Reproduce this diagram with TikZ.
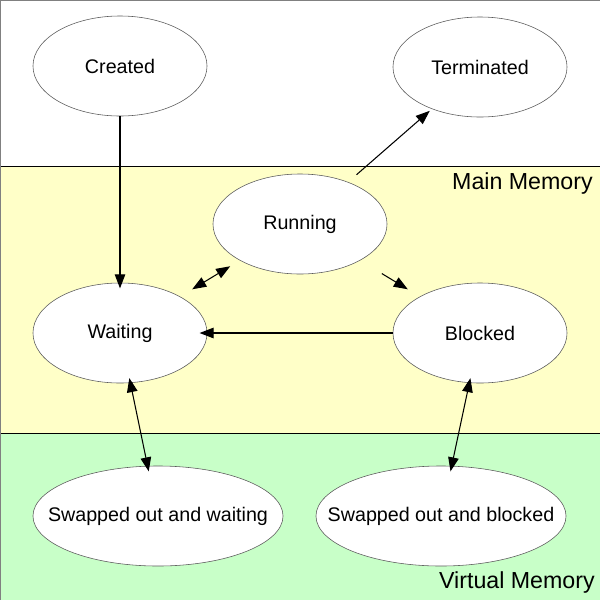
\documentclass[tikz,border=0pt]{standalone}
\usepackage{fontspec}
\setmainfont{Liberation Sans}
\usepackage{tikz}
\usetikzlibrary{shapes.geometric}
\usetikzlibrary{arrows.meta}
\definecolor{mainmem}{RGB}{255,255,200}
\definecolor{virtmem}{RGB}{200,255,200}

\begin{document}
\begin{tikzpicture}[x=0.025cm,y=-0.025cm,
        state/.style={ellipse,draw=black!65,fill=white,inner sep=0pt,
            minimum width=4.35cm,minimum height=2.5cm,font=\fontsize{14}{17}\selectfont},
        wide/.style={minimum width=6.25cm},
        arr/.style={-{Triangle[length=10pt,width=7.5pt]},line width=0.75pt},
        darr/.style={{Triangle[length=10pt,width=7.5pt]}-{Triangle[length=10pt,width=7.5pt]},line width=0.75pt}]
            \useasboundingbox (0,0) rectangle (600,600);
            \fill[white] (0,0) rectangle (600,166);
            \fill[mainmem] (0,166) rectangle (600,433);
            \fill[virtmem] (0,433) rectangle (600,600);
            \draw (0,166) -- (600,166);
            \draw (0,433) -- (600,433);
            \draw[gray] (0,0) rectangle (600,600);
            \node[anchor=east,inner sep=0pt,font=\fontsize{16.5}{20}\selectfont] (mm) at (593,183) {Main Memory};
            \node[anchor=east,inner sep=0pt,font=\fontsize{16.5}{20}\selectfont] (vm) at (595,582) {Virtual Memory};
            \node[state] (created) at (120,66) {Created};
            \node[state] (term) at (480,67) {Terminated};
            \node[state] (run) at (300,224) {Running};
            \node[state] (wait) at (120,333) {Waiting};
            \node[state] (block) at (480,333) {Blocked};
            \node[state,wide] (swapw) at (158,516) {\makebox[0pt]{Swapped out and waiting}};
            \node[state,wide] (swapb) at (441,516) {\makebox[0pt]{Swapped out and blocked}};
            \draw[arr,shorten >=-4pt] (created) -- (wait);
            \draw[arr,shorten <=8pt,shorten >=2pt] (run) -- (term);
            \draw[darr,shorten <=8pt,shorten >=10pt] (run) -- (wait);
            \draw[arr,shorten <=18pt,shorten >=10pt] (run) -- (block);
            \draw[arr,shorten >=-5.5pt] (block) -- (wait);
            \draw[darr,shorten <=-3.5pt,shorten >=-4pt] (wait) -- (swapw);
            \draw[darr,shorten <=-3.5pt,shorten >=-4pt] (block) -- (swapb);
        \end{tikzpicture}
\end{document}
